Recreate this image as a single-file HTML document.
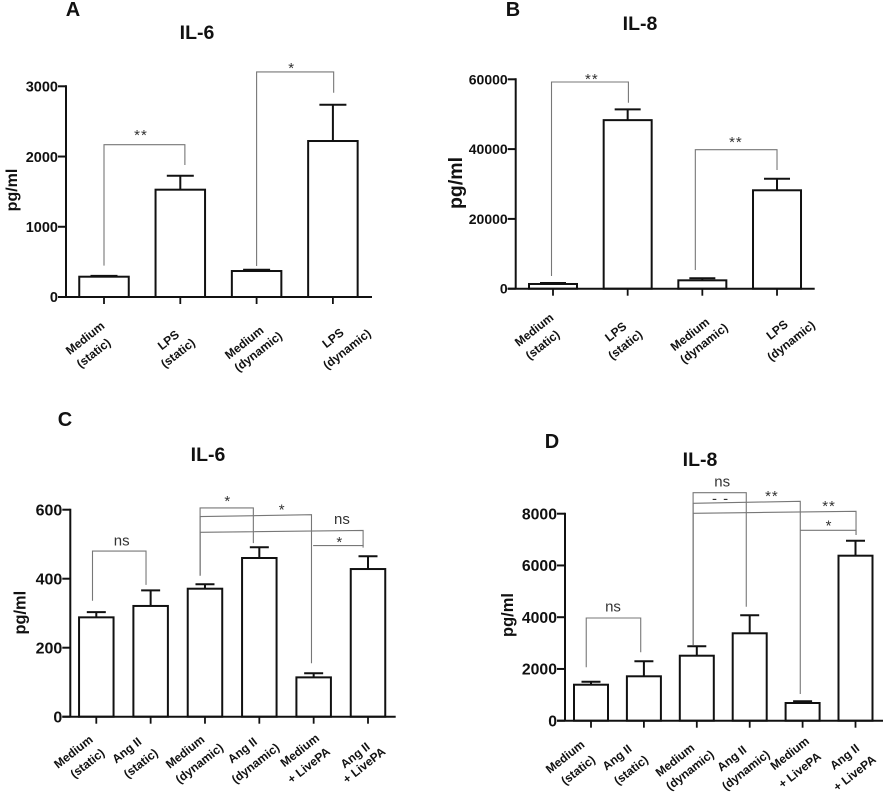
<!DOCTYPE html>
<html lang="en">
<head>
<meta charset="utf-8">
<title>IL-6 and IL-8 bar charts</title>
<style>
html,body{margin:0;padding:0;background:#fff;}
body{width:886px;height:795px;overflow:hidden;}
svg{display:block;filter:blur(0.35px);}
text{font-family:"Liberation Sans",sans-serif;fill:#111;}
.bold{font-weight:bold;}
</style>
</head>
<body>
<svg id="figure" width="886" height="795" viewBox="0 0 886 795" xmlns="http://www.w3.org/2000/svg">
  <rect x="0" y="0" width="886" height="795" fill="#fff"/>
  <g id="panel-a"></g>
  <g id="panel-b"></g>
  <g id="panel-c"></g>
  <g id="panel-d"></g>
</svg>
<script>
// ---- Panel A data ----
const aLine1 = ['Medium', 'LPS', 'Medium', 'LPS'];
const aLine2 = ['(static)', '(static)', '(dynamic)', '(dynamic)'];
const aMeans = [289, 1528, 370, 2221];
const aErrorTops = [300, 1727, 388, 2738];
const aTicks = [0, 1000, 2000, 3000];
// bracket: left cat, right cat, top value left, top value right, left end value, right end value
const aBrackets = [
  [0, 1.06, 2169, 2169, 446, 1880],
  [2, 3.01, 3204, 3204, 441, 2909]
];
const aMarks = [
  ['**', 0.485, 2349],
  ['*', 2.46, 3303]
];

// ---- Panel B data ----
const bLine1 = ['Medium', 'LPS', 'Medium', 'LPS'];
const bLine2 = ['(static)', '(static)', '(dynamic)', '(dynamic)'];
const bMeans = [1350, 48300, 2400, 28200];
const bErrorTops = [1620, 51400, 2980, 31500];
const bTicks = [0, 20000, 40000, 60000];
const bBrackets = [
  [-0.02, 1.01, 59226, 59226, 3639, 53295],
  [1.906, 3, 39828, 39828, 5358, 34011]
];
const bMarks = [
  ['**', 0.52, 60946],
  ['**', 2.45, 42894]
];

// ---- Panel C data ----
const cLine1 = ['Medium', 'Ang II', 'Medium', 'Ang II', 'Medium', 'Ang II'];
const cLine2 = ['(static)', '(static)', '(dynamic)', '(dynamic)', '+ LivePA', '+ LivePA'];
const cMeans = [288, 321, 371, 460, 114, 428];
const cErrorTops = [303, 366, 384, 491, 126, 465];
const cTicks = [0, 200, 400, 600];
const cBrackets = [
  [-0.07, 0.915, 480, 480, 336, 382],
  [1.91, 2.89, 605, 605, 409, 503],
  [1.91, 3.96, 580, 585.5, 409, 155],
  [1.91, 4.91, 534.5, 540, 409, 496],
  [3.99, 4.91, 496, 496, 496, 490]
];
const cMarks = [
  ['ns', 0.467, 510],
  ['*', 2.42, 634],
  ['*', 3.42, 608],
  ['ns', 4.52, 572],
  ['*', 4.48, 515]
];

// ---- Panel D data ----
const dLine1 = ['Medium', 'Ang II', 'Medium', 'Ang II', 'Medium', 'Ang II'];
const dLine2 = ['(static)', '(static)', '(dynamic)', '(dynamic)', '+ LivePA', '+ LivePA'];
const dMeans = [1391, 1716, 2512, 3378, 684, 6377];
const dErrorTops = [1507, 2296, 2875, 4073, 750, 6957];
const dTicks = [0, 2000, 4000, 6000, 8000];
const dBrackets = [
  [-0.09, 0.94, 3969, 3969, 2064, 2643],
  [1.93, 2.935, 8812, 8812, 2926, 4406],
  [1.93, 3.956, 8402, 8479, 2926, 1032],
  [1.93, 5.01, 8015, 8093, 2926, 7177],
  [3.956, 5.01, 7358, 7358, 7358, 7177]
];
const dMarks = [
  ['ns', 0.416, 4406],
  ['ns', 2.48, 9237],
  ['- -', 2.45, 8568],
  ['**', 3.42, 8800],
  ['**', 4.5, 8402],
  ['*', 4.5, 7644]
];

// ---- Layout (pixels, separate from the data) ----
const fourBarNudges = [
  [[-19, 41], [-10.5, 56]],
  [[-12, 43], [-2.5, 56]],
  [[-12.5, 45.5], [1.5, 54.5]],
  [[0, 41], [14, 52]]
];
const layoutA = {
  id: 'panel-a', yMax: 3000, x0: 104, step: 76.3, barW: 49.5, capW: 27,
  axisX: 66, axisEnd: 372, y0: 297, yTop: 86.3, tickFont: 14.5, tickGap: 10,
  title: 'IL-6', titleX: 197, titleY: 32, letter: 'A', letterX: 73, letterY: 9,
  yTitleX: 12, yTitleY: 190, yTitleFont: 16, nudges: fourBarNudges
};
const layoutB = {
  id: 'panel-b', yMax: 60000, x0: 553, step: 74.67, barW: 48, capW: 26,
  axisX: 515.7, axisEnd: 814.7, y0: 288.7, yTop: 79.3, tickFont: 14, tickGap: 10,
  title: 'IL-8', titleX: 640, titleY: 23, letter: 'B', letterX: 513, letterY: 9,
  yTitleX: 456, yTitleY: 183, yTitleFont: 19.5, nudges: fourBarNudges
};
const layoutC = {
  id: 'panel-c', yMax: 600, x0: 96.3, step: 54.34, barW: 34.5, capW: 19,
  axisX: 70.3, axisEnd: 395.7, y0: 716.7, yTop: 509.7, tickFont: 16, tickGap: 10,
  title: 'IL-6', titleX: 208, titleY: 454, letter: 'C', letterX: 65, letterY: 419,
  yTitleX: 20.7, yTitleY: 612.7, yTitleFont: 16.4,
  nudges: [
    [[-23, 35], [-9, 46.5]],
    [[-24, 33.5], [-10, 46.5]],
    [[-20, 35], [-5.7, 46.5]],
    [[-17, 33.5], [-4, 46.5]],
    [[-14, 33.5], [-5, 48.5]],
    [[-13, 38.5], [-4, 48.5]]
  ]
};
const layoutD = {
  id: 'panel-d', yMax: 8000, x0: 591, step: 52.9, barW: 34, capW: 19,
  axisX: 565, axisEnd: 883, y0: 720.7, yTop: 513.7, tickFont: 15.8, tickGap: 10,
  title: 'IL-8', titleX: 700, titleY: 459, letter: 'D', letterX: 552, letterY: 441,
  yTitleX: 508, yTitleY: 615, yTitleFont: 16.5,
  nudges: [
    [[-26, 36], [-13, 49.3]],
    [[-27, 36.6], [-13, 49.3]],
    [[-22, 39.3], [-7, 49.3]],
    [[-18, 37.6], [-4, 49.3]],
    [[-13, 32.6], [-3, 49.3]],
    [[-11, 36], [-1, 52.3]]
  ]
};

const SVGNS = 'http://www.w3.org/2000/svg';
function make(parent, tag, attrs, content) {
  const node = document.createElementNS(SVGNS, tag);
  for (const key in attrs) node.setAttribute(key, attrs[key]);
  if (content !== undefined) node.textContent = content;
  parent.appendChild(node);
  return node;
}

function drawPanel(L, line1, line2, means, errorTops, ticks, brackets, marks) {
  const root = document.getElementById(L.id);
  const xScale = function (i) { return L.x0 + L.step * i; };
  const yScale = function (v) { return L.y0 - (v / L.yMax) * (L.y0 - L.yTop); };
  let el;

  // panel letter and title
  el = make(root, 'text', { x: L.letterX, y: L.letterY + 7, 'text-anchor': 'middle', 'font-size': 20, class: 'bold' }, L.letter);
  
  

  el = make(root, 'text', { x: L.titleX, y: L.titleY + 7, 'text-anchor': 'middle', 'font-size': 19.5, class: 'bold' }, L.title);
  
  

  // y axis title
  el = make(root, 'text', {
    x: 0, y: 0, 'text-anchor': 'middle', 'font-size': L.yTitleFont, class: 'bold',
    transform: 'translate(' + (L.yTitleX + L.yTitleFont * 0.3) + ',' + L.yTitleY + ') rotate(-90)'
  }, 'pg/ml');
  
  

  // bars and error bars
  means.forEach(function (value, i) {
    const cx = xScale(i);
    const top = yScale(value);
    const errTop = yScale(errorTops[i]);

    const err = make(root, 'path', {
      d: 'M' + cx + ' ' + top + 'V' + errTop + 'M' + (cx - L.capW / 2) + ' ' + errTop + 'H' + (cx + L.capW / 2),
      stroke: '#111', 'stroke-width': 2, fill: 'none'
    });
    
    

    const bar = make(root, 'rect', {
      x: cx - L.barW / 2, y: top, width: L.barW, height: L.y0 - top,
      fill: '#fff', stroke: '#111', 'stroke-width': 2
    });
    
    

    const tick = make(root, 'line', {
      x1: cx, x2: cx, y1: L.y0, y2: L.y0 + 7, stroke: '#111', 'stroke-width': 1.8
    });
    
    

    const n = L.nudges[i];
    const label1 = make(root, 'text', {
      x: 0, y: 0, dy: '0.35em', 'text-anchor': 'middle', 'font-size': 12, class: 'bold',
      transform: 'translate(' + (cx + n[0][0]) + ',' + (L.y0 + n[0][1]) + ') rotate(-38)'
    }, line1[i]);
    
    

    const label2 = make(root, 'text', {
      x: 0, y: 0, dy: '0.35em', 'text-anchor': 'middle', 'font-size': 12, class: 'bold',
      transform: 'translate(' + (cx + n[1][0]) + ',' + (L.y0 + n[1][1]) + ') rotate(-38)'
    }, line2[i]);
    
    
  });

  // axes
  el = make(root, 'line', { x1: L.axisX - 8, x2: L.axisEnd, y1: L.y0, y2: L.y0, stroke: '#111', 'stroke-width': 2 });
  
  

  el = make(root, 'line', { x1: L.axisX, x2: L.axisX, y1: L.yTop - 1, y2: L.y0, stroke: '#111', 'stroke-width': 2 });
  
  

  ticks.forEach(function (value) {
    const y = yScale(value);
    const tick = make(root, 'line', { x1: L.axisX - 8, x2: L.axisX, y1: y, y2: y, stroke: '#111', 'stroke-width': 2 });
    
    

    const label = make(root, 'text', {
      x: L.axisX - L.tickGap + 2, y: y, dy: '0.36em', 'text-anchor': 'end', 'font-size': L.tickFont, class: 'bold'
    }, String(value));
    
    
  });

  // significance brackets
  brackets.forEach(function (b) {
    const left = xScale(b[0]);
    const right = xScale(b[1]);
    const path = make(root, 'path', {
      d: 'M' + left + ' ' + yScale(b[4]) + 'V' + yScale(b[2]) + 'L' + right + ' ' + yScale(b[3]) + 'V' + yScale(b[5]),
      stroke: '#777', 'stroke-width': 1.1, fill: 'none'
    });
    
    
  });

  marks.forEach(function (m) {
    const isNs = m[0] === 'ns';
    const mark = make(root, 'text', {
      x: xScale(m[1]), y: yScale(m[2]),
      dy: isNs ? '0.32em' : (m[0] === '- -' ? '0.3em' : '0.52em'),
      'text-anchor': 'middle', 'font-size': isNs ? 15 : 15,
      style: 'fill:' + (isNs ? '#333' : '#333') + (isNs ? '' : ';letter-spacing:1px')
    }, m[0]);
    
    
  });
}

drawPanel(layoutA, aLine1, aLine2, aMeans, aErrorTops, aTicks, aBrackets, aMarks);
drawPanel(layoutB, bLine1, bLine2, bMeans, bErrorTops, bTicks, bBrackets, bMarks);
drawPanel(layoutC, cLine1, cLine2, cMeans, cErrorTops, cTicks, cBrackets, cMarks);
drawPanel(layoutD, dLine1, dLine2, dMeans, dErrorTops, dTicks, dBrackets, dMarks);
</script>
</body>
</html>
